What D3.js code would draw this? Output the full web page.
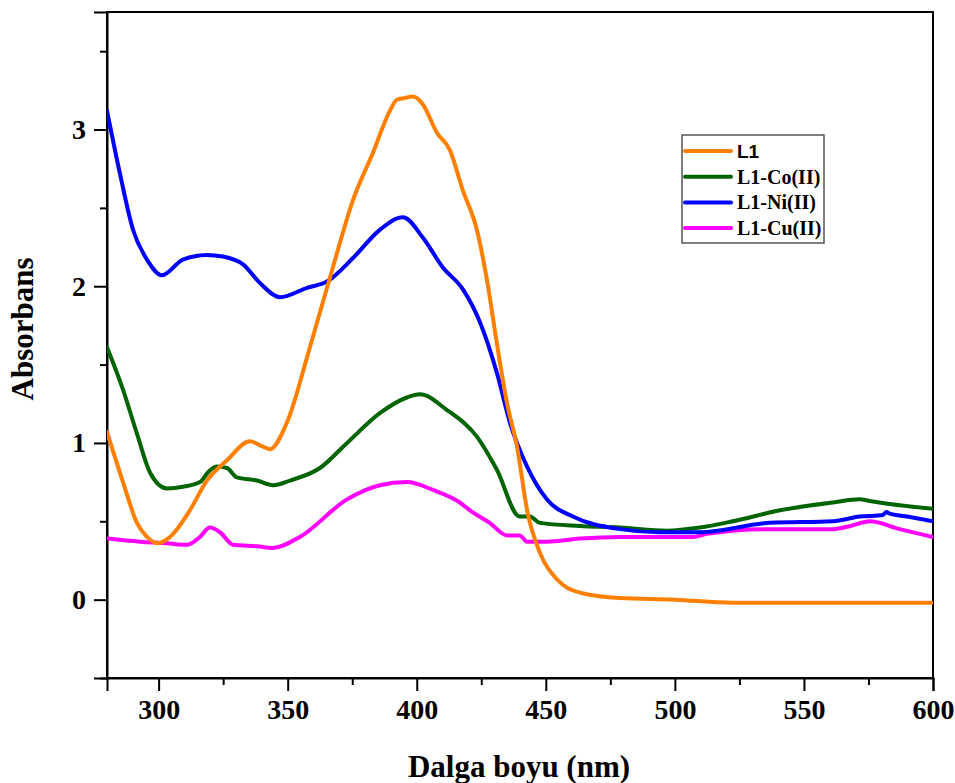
<!DOCTYPE html>
<html>
<head>
<meta charset="utf-8">
<script src="https://cdn.jsdelivr.net/npm/d3@7"></script>
<style>
  html, body { margin: 0; padding: 0; background: #fff; }
  svg { display: block; }
</style>
</head>
<body>
<svg id="chart" width="955" height="783"></svg>
<script>
// ---- Data ----
const seriesNames = ["L1", "L1-Co(II)", "L1-Ni(II)", "L1-Cu(II)"];
const seriesColors = ["#FF8000", "#006400", "#0000FF", "#FF00FF"];

const wlL1 = [280, 286.2, 291.6, 295.5, 299.4, 304.4, 312.1, 318.7, 326.5, 335.4, 340, 343.1, 349.7, 358.6, 367.5, 375.3, 383, 389.6, 392.3, 395, 398.5, 402.4, 407.8, 412.8, 417.9, 423.3, 427.2, 431, 434.9, 438.8, 443, 447.7, 454.3, 463.2, 478.7, 500, 522.4, 550, 571.6, 600];
const absL1 = [1.07, 0.75, 0.49, 0.40, 0.36, 0.40, 0.57, 0.76, 0.89, 1.01, 0.98, 0.96, 1.13, 1.61, 2.12, 2.55, 2.85, 3.12, 3.19, 3.20, 3.21, 3.16, 2.98, 2.87, 2.61, 2.36, 2.04, 1.64, 1.26, 0.98, 0.55, 0.30, 0.13, 0.045, 0.01, 0.0, -0.02, -0.02, -0.02, -0.02];

const wlCo = [280, 286.2, 291.6, 296.7, 303.2, 309.4, 316, 319.5, 322.6, 326.5, 330.3, 338.1, 344.3, 350.9, 362.5, 373, 385.7, 396.2, 401.2, 411.7, 423.3, 431, 439.9, 443.8, 447.7, 463.2, 478.7, 496.9, 509.7, 522.4, 540.7, 561.2, 571.6, 575.5, 583.3, 600];
const absCo = [1.61, 1.34, 1.06, 0.81, 0.71, 0.72, 0.75, 0.82, 0.85, 0.84, 0.78, 0.76, 0.73, 0.76, 0.84, 1.00, 1.19, 1.29, 1.31, 1.21, 1.04, 0.83, 0.53, 0.53, 0.49, 0.47, 0.46, 0.44, 0.46, 0.50, 0.57, 0.62, 0.64, 0.63, 0.61, 0.58];

const wlNi = [280, 285, 290.1, 295.5, 301.3, 309.4, 318.7, 324.9, 332.7, 339.3, 347, 357.5, 365.2, 375.3, 385.7, 394.6, 402.4, 410.1, 417.9, 424.5, 431, 436.1, 442.7, 450.4, 460.5, 478.7, 494.2, 509.7, 536.8, 561.2, 571.6, 580.5, 582, 583, 590, 600];
const absNi = [3.12, 2.72, 2.36, 2.17, 2.07, 2.17, 2.20, 2.19, 2.14, 2.02, 1.93, 1.99, 2.03, 2.18, 2.36, 2.44, 2.31, 2.12, 1.98, 1.77, 1.45, 1.13, 0.85, 0.64, 0.53, 0.45, 0.43, 0.43, 0.49, 0.50, 0.53, 0.54, 0.56, 0.55, 0.53, 0.50];

const wlCu = [280, 292.8, 303.2, 311, 316, 319.9, 323.8, 328.8, 338.1, 344.3, 354.7, 373, 385.7, 396.2, 406.3, 416.7, 420.6, 428.3, 434.9, 439.9, 442.7, 450.4, 463.2, 478.7, 507, 512.4, 535.6, 561.2, 568, 575.5, 587.1, 600];
const absCu = [0.39, 0.37, 0.36, 0.35, 0.40, 0.46, 0.43, 0.35, 0.34, 0.33, 0.40, 0.64, 0.73, 0.75, 0.70, 0.62, 0.57, 0.49, 0.41, 0.41, 0.37, 0.37, 0.39, 0.40, 0.40, 0.42, 0.45, 0.45, 0.47, 0.50, 0.45, 0.40];

const xTickValues = [300, 350, 400, 450, 500, 550, 600];
const xMinorTicks = [325, 375, 425, 475, 525, 575];
const yTickValues = [0, 1, 2, 3];
const yMinorTicks = [-0.5, 0.5, 1.5, 2.5, 3.5];
const xTitle = "Dalga boyu (nm)";
const yTitle = "Absorbans";

// ---- Layout ----
const svg = d3.select("#chart");
const pLeft = 107, pRight = 933, pTop = 12, pBottom = 678;
const x = d3.scaleLinear().domain([280, 600]).range([pLeft, pRight]);
const y = d3.scaleLinear().domain([-0.5, 3.75]).range([pBottom, pTop]);

const serif = "'Liberation Serif', 'Times New Roman', serif";
const sans = "'Liberation Sans', Arial, sans-serif";

// frame
svg.append("rect")
  .attr("x", pLeft).attr("y", pTop)
  .attr("width", pRight - pLeft).attr("height", pBottom - pTop)
  .attr("fill", "none").attr("stroke", "#000").attr("stroke-width", 2);

// x axis
const xAxis = d3.axisBottom(x).tickValues(xTickValues).tickSize(13).tickPadding(8).tickFormat(d3.format("d"));
const gx = svg.append("g").attr("transform", `translate(0,${pBottom})`).call(xAxis);
gx.select(".domain").attr("stroke-width", 2);
gx.selectAll(".tick line").attr("stroke-width", 2);
gx.selectAll(".tick text").attr("font-family", serif).attr("font-weight", "bold").attr("font-size", 28).attr("fill", "#000");
const gxm = svg.append("g").attr("transform", `translate(0,${pBottom})`)
  .call(d3.axisBottom(x).tickValues(xMinorTicks).tickSize(7).tickFormat(""));
gxm.select(".domain").remove();
gxm.selectAll(".tick line").attr("stroke-width", 2);

// y axis
const yAxis = d3.axisLeft(y).tickValues(yTickValues).tickSize(13).tickPadding(8).tickFormat(d3.format("d"));
const gy = svg.append("g").attr("transform", `translate(${pLeft},0)`).call(yAxis);
gy.select(".domain").attr("stroke-width", 2);
gy.selectAll(".tick line").attr("stroke-width", 2);
gy.selectAll(".tick text").attr("font-family", serif).attr("font-weight", "bold").attr("font-size", 28).attr("fill", "#000");
const gym = svg.append("g").attr("transform", `translate(${pLeft},0)`)
  .call(d3.axisLeft(y).tickValues(yMinorTicks).tickSize(7).tickFormat(""));
gym.select(".domain").remove();
gym.selectAll(".tick line").attr("stroke-width", 2);

// titles
svg.append("text").attr("x", (pLeft + pRight) / 2 - 1).attr("y", 777)
  .attr("text-anchor", "middle").attr("font-family", serif).attr("font-weight", "bold")
  .attr("font-size", 31).text(xTitle);
svg.append("text").attr("transform", `translate(33,329) rotate(-90)`)
  .attr("text-anchor", "middle").attr("font-family", serif).attr("font-weight", "bold")
  .attr("font-size", 31).text(yTitle);

// lines
const series = [
  {wl: wlL1, ab: absL1},
  {wl: wlCo, ab: absCo},
  {wl: wlNi, ab: absNi},
  {wl: wlCu, ab: absCu}
];
const line = d3.line().x(d => x(d[0])).y(d => y(d[1])).curve(d3.curveMonotoneX);
const drawOrder = [3, 1, 2, 0];
svg.append("clipPath").attr("id", "plotclip").append("rect")
  .attr("x", pLeft).attr("y", pTop).attr("width", pRight - pLeft).attr("height", pBottom - pTop);
const gLines = svg.append("g").attr("clip-path", "url(#plotclip)");
drawOrder.forEach(i => {
  const s = series[i];
  gLines.append("path")
    .datum(s.wl.map((w, k) => [w, s.ab[k]]))
    .attr("d", line)
    .attr("fill", "none")
    .attr("stroke", seriesColors[i])
    .attr("stroke-width", 4)
    .attr("stroke-linejoin", "round")
    .attr("stroke-linecap", "round");
});

// legend
const lg = svg.append("g");
lg.append("rect").attr("x", 682).attr("y", 135).attr("width", 142).attr("height", 108)
  .attr("fill", "#fff").attr("stroke", "#555").attr("stroke-width", 1.5);
seriesNames.forEach((name, i) => {
  const yy = 151 + i * 25.7;
  lg.append("line").attr("x1", 685).attr("x2", 731).attr("y1", yy).attr("y2", yy)
    .attr("stroke", seriesColors[i]).attr("stroke-width", 4).attr("stroke-linecap", "round");
  lg.append("text").attr("x", 737).attr("y", yy + 7)
    .attr("font-family", i === 0 ? sans : serif).attr("font-weight", "bold")
    .attr("font-size", i === 0 ? 19 : 20).attr("fill", "#000").text(name);
});
</script>
</body>
</html>
